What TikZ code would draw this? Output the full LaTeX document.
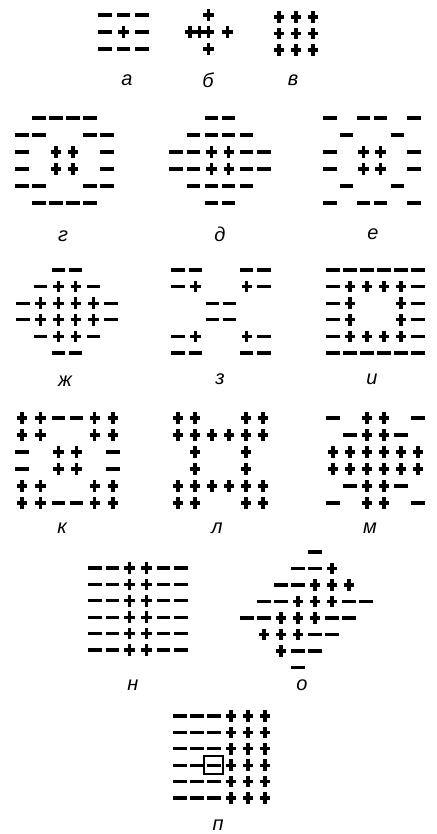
\documentclass[tikz,border=0pt]{standalone}
\usepackage{fontspec}
\setmainfont{Liberation Sans}
\tikzset{
  sign/.style={line width=3.1pt},
  plusmark/.pic={\draw[sign] (-5.3,0) -- (5.3,0) (0,-5.8) -- (0,5.8);},
  minusmark/.pic={\draw[sign,line width=3.3pt] (-6.6,0) -- (6.6,0);},
  lbl/.style={font=\fontsize{20}{20}\selectfont\itshape}
}
% x0, dx, y0, dy, rows (p = plus, m = minus, o = empty)
\newcommand{\signgrid}[5]{%
  \foreach \r [count=\j from 0] in {#5}{%
    \foreach \s [count=\i from 0] in \r {%
      \if\s p\pic at ({#1+#2*\i},{#3+#4*\j}) {plusmark};\fi
      \if\s m\pic at ({#1+#2*\i},{#3+#4*\j}) {minusmark};\fi
    }}}
\begin{document}
\begin{tikzpicture}[x=1pt,y=-1pt]
\useasboundingbox (0,0) rectangle (436,834);
% first row
\signgrid{105}{18.5}{15}{17}{{m,m,m},{m,p,m},{m,m,m}}
\signgrid{190}{9.3}{15}{17}{{o,o,p},{p,p,p,o,p},{o,o,p}}
\signgrid{279}{17}{17}{16.5}{{p,p,p},{p,p,p},{p,p,p}}
\node[lbl] (la) at (127,80) {а};
\node[lbl] (lb) at (208,80) {б};
\node[lbl] (lv) at (293,80) {в};
% second row
\signgrid{22}{17}{118}{17}{{o,m,m,m,m,o},{m,m,o,o,m,m},{m,o,p,p,o,m},{m,o,p,p,o,m},{m,m,o,o,m,m},{o,m,m,m,m,o}}
\signgrid{176}{17.6}{118}{17}{{o,o,m,m,o,o},{o,m,m,m,m,o},{m,m,p,p,m,m},{m,m,p,p,m,m},{o,m,m,m,m,o},{o,o,m,m,o,o}}
\signgrid{330}{16.8}{118}{17}{{m,o,m,m,o,m},{o,m,o,o,m,o},{m,o,p,p,o,m},{m,o,p,p,o,m},{o,m,o,o,m,o},{m,o,m,m,o,m}}
\node[lbl] (lg) at (63,236) {г};
\node[lbl] (ld) at (220,234) {д};
\node[lbl] (le) at (373,234) {е};
% third row
\signgrid{23}{17.6}{270}{16.6}{{o,o,m,m,o,o},{o,m,p,p,m,o},{m,p,p,p,p,m},{m,p,p,p,p,m},{o,m,p,p,m,o},{o,o,m,m,o,o}}
\signgrid{178}{17.2}{270}{16.6}{{m,m,o,o,m,m},{m,p,o,o,p,m},{o,o,m,m,o,o},{o,o,m,m,o,o},{m,p,o,o,p,m},{m,m,o,o,m,m}}
\signgrid{333}{17}{270}{16.6}{{m,m,m,m,m,m},{m,p,p,p,p,m},{m,p,o,o,p,m},{m,p,o,o,p,m},{m,p,p,p,p,m},{m,m,m,m,m,m}}
\node[lbl] (lzh) at (65,381) {ж};
\node[lbl] (lz) at (220,379) {з};
\node[lbl] (li) at (372,379) {и};
% fourth row
\signgrid{22}{18.2}{418}{17}{{p,p,m,m,p,p},{p,p,o,o,p,p},{m,o,p,p,o,m},{m,o,p,p,o,m},{p,p,o,o,p,p},{p,p,m,m,p,p}}
\signgrid{178}{17}{418}{17}{{p,p,o,o,p,p},{p,p,p,p,p,p},{o,p,o,o,p,o},{o,p,o,o,p,o},{p,p,p,p,p,p},{p,p,o,o,p,p}}
\signgrid{333}{17}{418}{17}{{m,o,p,p,o,m},{o,m,p,p,m,o},{p,p,p,p,p,p},{p,p,p,p,p,p},{o,m,p,p,m,o},{m,o,p,p,o,m}}
\node[lbl] (lk) at (62,528) {к};
\node[lbl] (ll) at (217,528) {л};
\node[lbl] (lm) at (370,528) {м};
% fifth row
\signgrid{95}{17.2}{568}{16.4}{{m,m,p,p,m,m},{m,m,p,p,m,m},{m,m,p,p,m,m},{m,m,p,p,m,m},{m,m,p,p,m,m},{m,m,p,p,m,m}}
\signgrid{247}{17}{552}{16.5}{{o,o,o,o,m},{o,o,o,m,m,p},{o,o,m,m,p,p,p},{o,m,m,p,p,p,m,m},{m,m,p,p,p,m,m},{o,p,p,p,m,m},{o,o,p,m,m},{o,o,o,m}}
\node[lbl] (ln) at (133,685) {н};
\node[lbl] (lo) at (302,685) {о};
% sixth row
\signgrid{180}{17}{716}{16.4}{{m,m,m,p,p,p},{m,m,m,p,p,p},{m,m,m,p,p,p},{m,m,m,p,p,p},{m,m,m,p,p,p},{m,m,m,p,p,p}}
\draw[line width=1.6pt] (204,756) rectangle (223,774);
\node[lbl] (lp) at (218,825) {п};
\end{tikzpicture}
\end{document}
